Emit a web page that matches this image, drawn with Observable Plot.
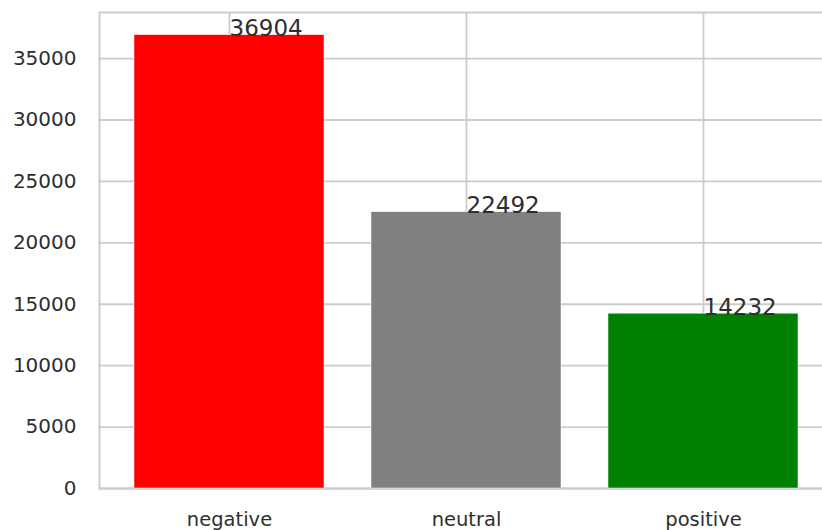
<!DOCTYPE html>
<html>
<head>
<meta charset="utf-8">
<script src="https://cdn.jsdelivr.net/npm/d3@7"></script>
<script src="https://cdn.jsdelivr.net/npm/@observablehq/plot@0.6"></script>
<style>
  html, body { margin: 0; padding: 0; background: #ffffff; }
  #chart { width: 822px; height: 530px; overflow: hidden; }
  #chart svg { overflow: hidden; }
</style>
</head>
<body>
<div id="chart"></div>
<script>
// Tweet counts per sentiment class
const sentiments = ["negative", "neutral", "positive"];
const counts = [36904, 22492, 14232];
const yTicks = [0, 5000, 10000, 15000, 20000, 25000, 30000, 35000];

const rows = sentiments.map((s, i) => ({sentiment: s, count: counts[i]}));
const yMax = d3.max(counts) * 1.05;

const grid = "#cccccc";
const ink = "#2e2e2e";
const font = "'DejaVu Sans', sans-serif";

const chart = Plot.plot({
  width: 822,
  height: 530,
  marginLeft: 99,
  marginRight: -10,
  marginTop: 12,
  marginBottom: 42,
  style: {fontFamily: font, background: "#ffffff"},
  x: {domain: sentiments, paddingInner: 0.2, paddingOuter: 0.14, label: null},
  y: {domain: [0, yMax], label: null},
  color: {domain: sentiments, range: ["#ff0000", "#808080", "#008000"]},
  marks: [
    Plot.ruleY(yTicks, {stroke: grid, strokeWidth: 1.8}),
    Plot.ruleX(sentiments, {stroke: grid, strokeWidth: 1.8}),
    Plot.frame({stroke: grid, strokeWidth: 2}),
    Plot.barY(rows, {x: "sentiment", y: "count", fill: "sentiment", stroke: "#ffffff", strokeWidth: 0.5}),
    Plot.text(rows, {
      x: "sentiment", y: "count", text: d => String(d.count),
      textAnchor: "start", lineAnchor: "bottom", fontSize: 23, fill: ink, dy: 1
    }),
    Plot.axisY(yTicks, {
      tickSize: 0, tickPadding: 23, tickFormat: d => String(d),
      fontSize: 20, fill: ink, label: null
    }),
    Plot.axisX({tickSize: 0, tickPadding: 24, fontSize: 19.5, fill: ink, label: null})
  ]
});

document.getElementById("chart").appendChild(chart);
</script>
</body>
</html>
